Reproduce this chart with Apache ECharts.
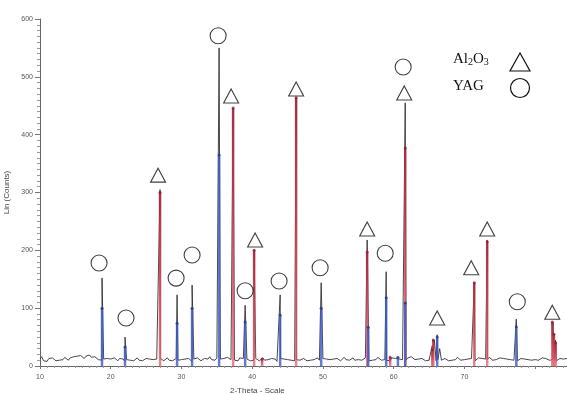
<!DOCTYPE html>
<html>
<head>
<meta charset="utf-8">
<script src="https://cdn.jsdelivr.net/npm/echarts@6/dist/echarts.min.js"></script>
<style>
  html, body { margin: 0; padding: 0; background: #fff; }
  #chart { width: 567px; height: 394px; }
</style>
</head>
<body>
<div id="chart"></div>
<script>
// measured pattern, 2-theta 10..84.5 step 0.25
const thetaStart = 10;
const thetaStep = 0.25;
const baseline = [
  12,16,9,11,8,13,10,14,11,9,12,10,13,11,15,12,10,14,12,16,
  13,17,14,18,15,13,17,14,19,15,12,16,13,11,14,10,12,9,13,11,
  12,10,14,11,9,13,10,12,8,11,13,10,12,9,11,14,10,12,9,11,
  13,10,12,15,11,9,12,10,13,11,9,12,14,10,12,9,11,13,10,12,
  11,9,12,10,13,11,8,12,10,14,11,9,12,13,10,12,16,11,13,10,
  14,11,12,9,13,10,15,12,11,13,10,12,9,14,11,13,10,12,11,9,
  12,10,13,11,9,12,14,10,12,11,9,13,10,12,8,11,13,10,12,9,
  11,13,10,12,9,11,14,10,12,13,11,9,12,10,13,11,12,14,10,12,
  13,10,12,9,11,14,12,10,13,11,9,12,15,11,13,10,12,14,10,12,
  11,13,10,12,14,11,9,12,10,13,11,15,12,10,13,11,9,12,10,14,
  11,13,10,12,9,11,13,10,14,12,16,13,11,14,12,10,13,11,9,12,
  10,13,11,12,9,11,14,10,12,13,11,9,12,10,13,11,15,12,10,13,
  11,14,12,10,13,11,9,12,14,11,13,10,12,11,15,12,10,13,11,12,
  14,11,13,10,12,15,11,13,10,12,9,11,13,10,12,14,11,13,10,12,
  11,13,10,12,14,11,13,12,10,13,11,12,9,11,13,10,12,11,13
];

// peak maxima of the measured curve
const peakTheta  = [18.77, 22.02, 26.97, 29.38, 31.5, 35.32, 37.3, 39.0, 40.27, 43.95, 46.21, 49.75, 56.25, 58.94, 61.63, 65.45, 65.75, 66.15, 66.5, 71.39, 73.22, 77.33, 82.5, 82.85];
const peakCounts = [152, 50, 305, 123, 140, 550, 446, 105, 200, 123, 464, 144, 218, 163, 455, 35, 45, 54, 30, 144, 218, 81, 76, 45];

// reference sticks
const al2o3Theta  = [26.97, 37.3, 40.27, 41.4, 46.21, 56.25, 59.5, 61.63, 65.45, 65.6, 71.39, 73.22, 82.42, 82.65, 82.9];
const al2o3Counts = [300, 446, 200, 12, 464, 197, 15, 377, 28, 45, 144, 215, 76, 55, 40];
const yagTheta  = [18.77, 22.02, 29.38, 31.5, 35.32, 39.0, 43.95, 49.75, 56.4, 58.94, 60.6, 61.63, 66.15, 77.33];
const yagCounts = [100, 33, 74, 100, 365, 76, 88, 100, 67, 118, 15, 109, 50, 68];

// phase marks drawn above the peaks
const circleTheta  = [18.35, 22.16, 29.24, 31.5, 35.18, 39.0, 43.8, 49.6, 58.8, 61.34, 77.47];
const circleCounts = [178, 83, 152, 192, 571, 130, 147, 170, 195, 517, 111];
const triTheta  = [26.69, 37.02, 40.41, 46.21, 56.25, 61.49, 66.15, 70.96, 73.22, 82.42];
const triCounts = [330, 467, 218, 479, 237, 472, 83, 170, 237, 93];

const pattern = baseline.map((v, i) => [thetaStart + i * thetaStep, v])
  .concat(peakTheta.map((t, i) => [t, peakCounts[i]]))
  .sort((a, b) => a[0] - b[0]);
const zip = (xs, ys) => xs.map((x, i) => [x, ys[i]]);

const chart = echarts.init(document.getElementById('chart'));
const labelFont = { fontSize: 7, color: '#555', fontFamily: 'Liberation Sans' };

chart.setOption({
  animation: false,
  grid: { left: 40, right: 0, top: 19, bottom: 28, outerBoundsMode: 'none', containLabel: false },
  xAxis: {
    type: 'value', min: 10, max: 84.5, interval: 10,
    axisLine: { lineStyle: { color: '#666', width: 1 } },
    axisTick: { length: 3, lineStyle: { color: '#777' } },
    minorTick: { show: true, splitNumber: 10, length: 2, lineStyle: { color: '#999' } },
    splitLine: { show: false },
    axisLabel: Object.assign({ margin: 8, formatter: v => (v <= 70 ? v : '') }, labelFont)
  },
  yAxis: {
    type: 'value', min: 0, max: 600, interval: 100,
    name: 'Lin (Counts)', nameLocation: 'middle', nameGap: 24, nameRotate: 90,
    nameTextStyle: { fontSize: 8, color: '#444', fontFamily: 'Liberation Sans' },
    axisLine: { show: true, lineStyle: { color: '#666', width: 1 } },
    axisTick: { show: true, length: 5, lineStyle: { color: '#777' } },
    minorTick: { show: true, splitNumber: 10, length: 3, lineStyle: { color: '#999' } },
    splitLine: { show: false },
    axisLabel: Object.assign({ margin: 7 }, labelFont)
  },
  graphic: [
    { type: 'text', left: 230, top: 387, style: { text: '2-Theta - Scale', fontSize: 8, fill: '#444', fontFamily: 'Liberation Sans' } },
    { type: 'text', left: 453, top: 52, style: {
        text: 'Al{s|2}O{s|3}', fill: '#111', font: '15px "Liberation Serif"',
        rich: { s: { fontSize: 10, fontFamily: 'Liberation Serif', fill: '#111', padding: [6, 0, 0, 0] } } } },
    { type: 'text', left: 453, top: 79, style: { text: 'YAG', fill: '#111', font: '15px "Liberation Serif"' } },
    { type: 'polygon', shape: { points: [[520, 53], [510, 71], [530, 71]] }, style: { fill: 'none', stroke: '#111', lineWidth: 1.2 } },
    { type: 'circle', shape: { cx: 520, cy: 88, r: 9.5 }, style: { fill: 'none', stroke: '#111', lineWidth: 1.2 } }
  ],
  series: [
    {
      name: 'pattern', type: 'line', data: pattern, symbol: 'none',
      lineStyle: { color: '#333', width: 0.9 }, z: 2
    },
    {
      name: 'Al2O3', type: 'bar', data: zip(al2o3Theta, al2o3Counts), barWidth: 2.5, barGap: '-100%',
      itemStyle: { color: new echarts.graphic.LinearGradient(0, 0, 0, 1, [
        { offset: 0, color: 'rgba(170,40,60,0.9)' }, { offset: 1, color: 'rgba(235,90,110,0.75)' }]) },
      z: 3
    },
    {
      name: 'YAG', type: 'bar', data: zip(yagTheta, yagCounts), barWidth: 2.5, barGap: '-100%',
      itemStyle: { color: 'rgba(60,90,200,0.8)' }, z: 4
    },
    {
      type: 'scatter', data: zip(al2o3Theta, al2o3Counts), symbolSize: 3,
      itemStyle: { color: '#8a1f33' }, z: 5
    },
    {
      type: 'scatter', data: zip(yagTheta, yagCounts), symbolSize: 3,
      itemStyle: { color: '#223a8a' }, z: 5
    },
    {
      type: 'scatter', data: zip(circleTheta, circleCounts), symbol: 'circle', symbolSize: 16,
      itemStyle: { color: 'rgba(255,255,255,0)', borderColor: '#111', borderWidth: 1.1 }, z: 6
    },
    {
      type: 'scatter', data: zip(triTheta, triCounts), symbol: 'triangle', symbolSize: [15, 14],
      itemStyle: { color: 'rgba(255,255,255,0)', borderColor: '#111', borderWidth: 1.1 }, z: 6
    }
  ]
});
</script>
</body>
</html>
